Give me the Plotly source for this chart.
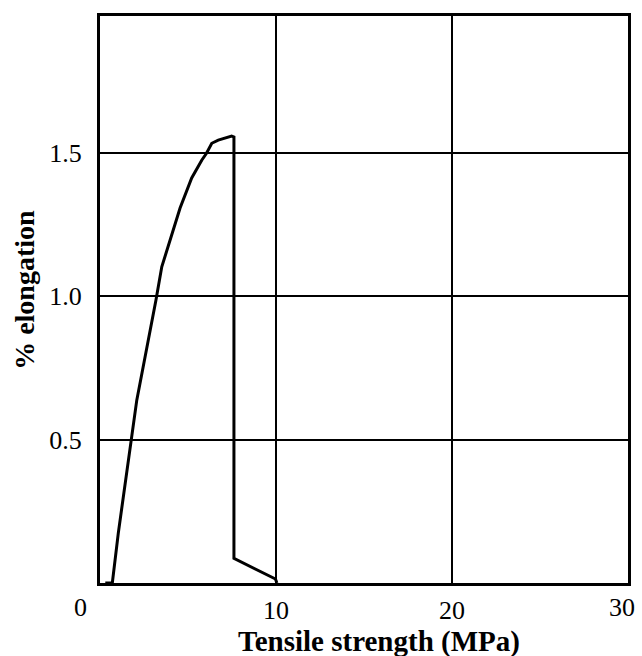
import plotly.graph_objects as go

# Stress-strain trace: tensile strength (MPa) vs % elongation
tensile_mpa = [0.3, 0.7, 1.04, 1.80, 2.09, 3.18, 3.51, 4.55, 5.21, 5.78, 6.06,
               6.35, 6.72, 7.48, 7.61, 7.61, 9.97, 10.05]
elongation_pct = [0.0, 0.0, 0.174, 0.502, 0.638, 0.987, 1.103, 1.308, 1.413,
                  1.475, 1.500, 1.534, 1.545, 1.559, 1.556, 0.086, 0.014, 0.0]

x_ticks = [10, 20]          # inner gridline ticks; ends labelled separately
x_end_labels = [0, 30]
y_ticks = [0.5, 1.0, 1.5]

serif = "Liberation Serif, Times New Roman, serif"
tick_font = dict(family=serif, size=26, color="black")

fig = go.Figure()
fig.add_trace(go.Scatter(
    x=tensile_mpa, y=elongation_pct, mode="lines",
    line=dict(color="black", width=3), showlegend=False,
))

end_label_shift = {0: -20, 30: -6}
annotations = [
    dict(text=str(v), x=v, xref="x", xshift=end_label_shift[v],
         y=-0.044, yref="paper", xanchor="center", yanchor="middle",
         showarrow=False, font=tick_font)
    for v in x_end_labels
]
annotations += [
    dict(text="<b>Tensile strength (MPa)</b>", x=0.528, xref="paper",
         y=-0.104, yref="paper", xanchor="center", yanchor="middle",
         showarrow=False, font=dict(family=serif, size=29, color="black")),
    dict(text="<b>% elongation</b>", x=0, xref="paper", xshift=-75,
         y=0.517, yref="paper", xanchor="center", yanchor="middle",
         textangle=-90, showarrow=False,
         font=dict(family=serif, size=28, color="black")),
]

fig.update_layout(
    width=642, height=656,
    margin=dict(l=100, r=14, t=16, b=73, autoexpand=False),
    plot_bgcolor="white", paper_bgcolor="white",
    font=dict(family=serif, color="black", size=26),
    xaxis=dict(
        range=[0, 30], tickvals=x_ticks, ticks="", showgrid=True,
        gridcolor="black", gridwidth=1.5, zeroline=False,
        showline=True, linecolor="black", linewidth=3, mirror=True,
        tickfont=tick_font, ticklabelstandoff=2, automargin=False,
    ),
    yaxis=dict(
        range=[0, 1.978], tickvals=y_ticks, tickformat=".1f", ticks="",
        showgrid=True, gridcolor="black", gridwidth=1.5, zeroline=False,
        showline=True, linecolor="black", linewidth=3, mirror=True,
        tickfont=tick_font, ticklabelstandoff=10, automargin=False,
    ),
    annotations=annotations,
)

fig.write_html("out.html")
